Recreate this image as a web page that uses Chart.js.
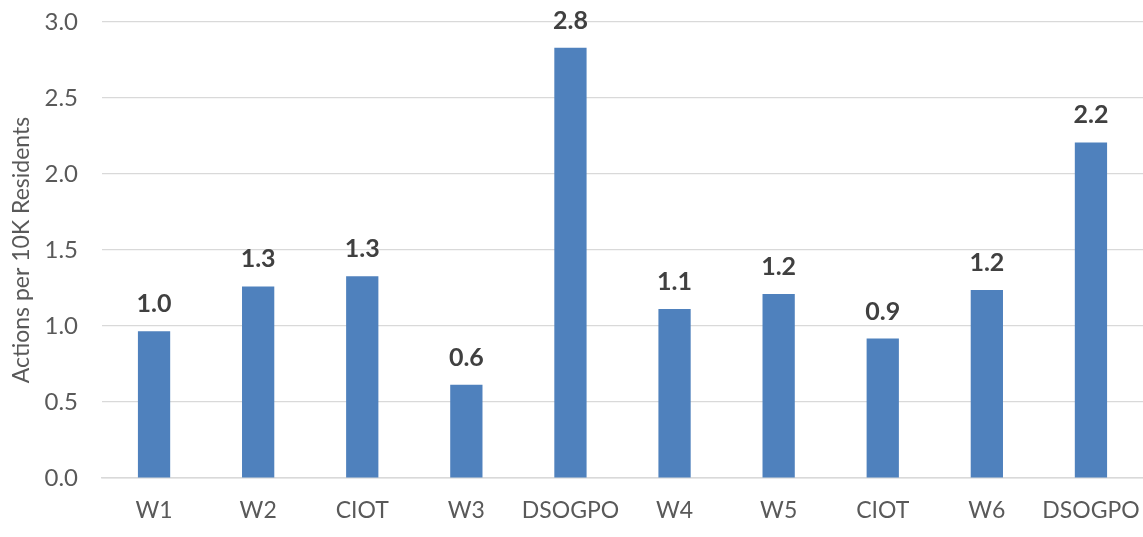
<!DOCTYPE html>
<html>
<head>
<meta charset="utf-8">
<script src="https://cdn.jsdelivr.net/npm/chart.js@4.4.1/dist/chart.umd.min.js"></script>
<style>
  html, body { margin: 0; padding: 0; background: #ffffff; }
  #wrap { width: 1143px; height: 537px; position: relative; }
</style>
</head>
<body>
<div id="wrap"><canvas id="chart"></canvas></div>
<script>
// Categories along the x axis
const categories = ['W1', 'W2', 'CIOT', 'W3', 'DSOGPO', 'W4', 'W5', 'CIOT', 'W6', 'DSOGPO'];
// Actions per 10K residents for each category
const actionsPer10K = [0.965, 1.26, 1.327, 0.614, 2.83, 1.112, 1.21, 0.917, 1.237, 2.208];
// Y axis range and step
const yMin = 0;
const yMax = 3.0;
const yStep = 0.5;
const yTitle = 'Actions per 10K Residents';

const FONT = 'Lato, "Open Sans", sans-serif';

// Value labels drawn above each bar
const valueLabels = {
  id: 'valueLabels',
  afterDatasetsDraw(chart) {
    const ctx = chart.ctx;
    const meta = chart.getDatasetMeta(0);
    ctx.save();
    ctx.font = 'bold 25px ' + FONT;
    ctx.fillStyle = '#404040';
    ctx.textAlign = 'center';
    ctx.textBaseline = 'alphabetic';
    meta.data.forEach((bar, i) => {
      const v = chart.data.datasets[0].data[i];
      ctx.fillText(v.toFixed(1), bar.x, bar.y - 19);
    });
    ctx.restore();
  }
};

new Chart(document.getElementById('chart'), {
  type: 'bar',
  data: {
    labels: categories,
    datasets: [{
      data: actionsPer10K,
      backgroundColor: '#4f81bd',
      borderWidth: 0,
      barPercentage: 0.62,
      categoryPercentage: 0.5
    }]
  },
  options: {
    responsive: true,
    maintainAspectRatio: false,
    animation: false,
    layout: { padding: { top: 0, right: 0, left: 0, bottom: 0 } },
    plugins: {
      legend: { display: false },
      tooltip: { enabled: false }
    },
    scales: {
      x: {
        grid: { display: false, drawTicks: false },
        border: { display: true, color: '#d9d9d9', width: 1.5 },
        ticks: {
          color: '#595959',
          font: { family: FONT, size: 23 },
          padding: 19,
          maxRotation: 0,
          autoSkip: false
        },
        afterFit(scale) {
          scale.height = 59;
          scale.paddingLeft = 0;
          scale.paddingRight = 0;
        }
      },
      y: {
        min: yMin,
        max: yMax,
        grid: { color: '#d9d9d9', lineWidth: 1.2, drawTicks: false },
        border: { display: false },
        ticks: {
          stepSize: yStep,
          color: '#595959',
          font: { family: FONT, size: 24 },
          padding: 24,
          callback: v => Number(v).toFixed(1)
        },
        title: {
          display: true,
          text: yTitle,
          color: '#595959',
          font: { family: FONT, size: 23 },
          padding: { top: 8, bottom: 0 }
        },
        afterFit(scale) {
          scale.width = 102;
          scale.paddingTop = 22;
        }
      }
    }
  },
  plugins: [valueLabels]
});
</script>
</body>
</html>
